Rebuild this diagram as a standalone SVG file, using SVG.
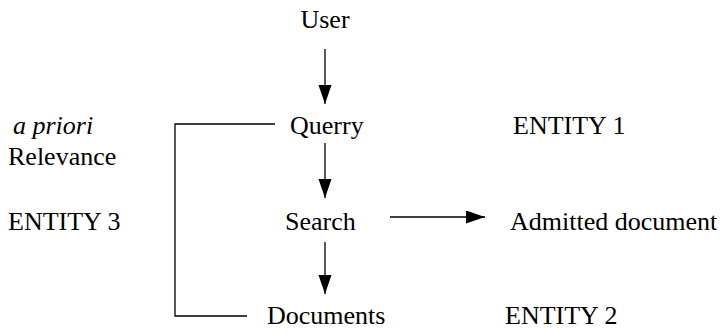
<svg xmlns="http://www.w3.org/2000/svg" width="726" height="334" viewBox="0 0 726 334">
<style>
.t{font-size:26px;fill:#000}
.it{font-style:italic}
.ln{stroke:#000;stroke-width:1.3;fill:none}
</style>
<defs>
<marker id="ah" markerUnits="userSpaceOnUse" markerWidth="20" markerHeight="14" refX="19" refY="6.5" orient="auto">
<path d="M0,0 L19,6.5 L0,13 Z" fill="#000"/>
</marker>
</defs>
<rect width="726" height="334" fill="#fff"/>
<g id="connectors">
<line class="ln" x1="325" y1="49" x2="325" y2="104" marker-end="url(#ah)"/>
<line class="ln" x1="325" y1="143" x2="325" y2="198" marker-end="url(#ah)"/>
<line class="ln" x1="325" y1="242" x2="325" y2="294" marker-end="url(#ah)"/>
<line class="ln" x1="390" y1="217" x2="485" y2="217" marker-end="url(#ah)"/>
<polyline class="ln" points="275,124 175,124 175,316 247,316"/>
</g>
<g class="t" font-family="'Liberation Serif', 'Times New Roman', Times, serif">
<g id="user"><text x="325" y="28" text-anchor="middle">User</text></g>
<g id="querry"><text x="290" y="134">Querry</text></g>
<g id="entity1"><text x="513" y="134">ENTITY 1</text></g>
<g id="relevance"><text class="it" x="13" y="134">a priori</text><text x="8" y="165">Relevance</text></g>
<g id="entity3"><text x="8" y="230">ENTITY 3</text></g>
<g id="search"><text x="285" y="230">Search</text></g>
<g id="admitted"><text x="510" y="230">Admitted document</text></g>
<g id="documents"><text x="267" y="324">Documents</text></g>
<g id="entity2"><text x="505" y="324">ENTITY 2</text></g>
</g>
</svg>
